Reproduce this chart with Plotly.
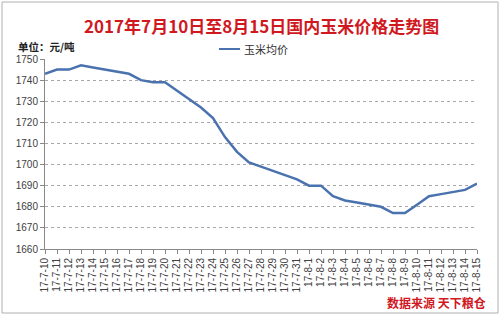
import plotly.graph_objects as go

dates = ["17-7-10","17-7-11","17-7-12","17-7-13","17-7-14","17-7-15","17-7-16","17-7-17",
         "17-7-18","17-7-19","17-7-20","17-7-21","17-7-22","17-7-23","17-7-24","17-7-25",
         "17-7-26","17-7-27","17-7-28","17-7-29","17-7-30","17-7-31",
         "17-8-1","17-8-2","17-8-3","17-8-4","17-8-5","17-8-6","17-8-7","17-8-8",
         "17-8-9","17-8-10","17-8-11","17-8-12","17-8-13","17-8-14","17-8-15"]
prices = [1743,1745,1745,1747,1746,1745,1744,1743,
          1740,1739,1739,1735,1731,1727,1722,1713,
          1706,1701,1699,1697,1695,1693,
          1690,1690,1685,1683,1682,1681,1680,1677,
          1677,1681,1685,1686,1687,1688,1691]
series_name = "玉米均价"
title_text = "2017年7月10日至8月15日国内玉米价格走势图"
unit_text = "单位：元/吨"
source_text = "数据来源 天下粮仓"

LINE = "#4a72ae"
RED = "#d0191f"
CJK = "Noto Sans CJK SC"

fig = go.Figure()
fig.add_trace(go.Scatter(x=list(range(len(dates))), y=prices, mode="lines",
                         name=series_name, line=dict(color=LINE, width=2.5),
                         showlegend=False))

W, H = 500, 316
L, R, T, B = 45, 23, 59, 67
pw, ph = W - L - R, H - T - B

def px(x):
    return (x - L) / pw

def py(y):
    return (H - B - y) / ph

fig.update_layout(
    width=W, height=H,
    margin=dict(l=L, r=R, t=T, b=B),
    paper_bgcolor="white", plot_bgcolor="white",
    xaxis=dict(range=[0, len(dates) - 1], tickmode="array",
               tickvals=list(range(len(dates))), ticktext=dates,
               tickangle=-90, ticks="outside", ticklen=4, tickcolor="#888",
               showline=True, linecolor="#888", linewidth=1, showgrid=False,
               zeroline=False,
               tickfont=dict(family="Liberation Sans", size=10, color="#404040")),
    yaxis=dict(range=[1660, 1750], dtick=10, ticks="outside", ticklen=4,
               tickcolor="#888", showline=True, linecolor="#888", linewidth=1,
               showgrid=True, gridcolor="#a8a8a8", griddash="dot", gridwidth=1,
               zeroline=False,
               tickfont=dict(family="Liberation Sans", size=10, color="#404040")),
    font=dict(family=CJK),
)

# outer border
fig.add_shape(type="rect", xref="paper", yref="paper",
              x0=px(2), x1=px(498), y0=py(313), y1=py(2),
              line=dict(color="#b0b0b0", width=1))

fig.add_annotation(text="<b>" + title_text + "</b>", xref="paper", yref="paper",
                   x=px(261), y=py(25), xanchor="center", yanchor="middle",
                   showarrow=False, font=dict(family=CJK, size=17, color=RED))
fig.add_annotation(text="<b>" + unit_text + "</b>", xref="paper", yref="paper",
                   x=px(16), y=py(46), xanchor="left", yanchor="middle",
                   showarrow=False, font=dict(family=CJK, size=10.5, color="#202020"))
# legend
fig.add_shape(type="line", xref="paper", yref="paper",
              x0=px(219), x1=px(240), y0=py(49), y1=py(49),
              line=dict(color=LINE, width=2))
fig.add_annotation(text=series_name, xref="paper", yref="paper",
                   x=px(242), y=py(49), xanchor="left", yanchor="middle",
                   showarrow=False, font=dict(family=CJK, size=11, color="#303030"))
fig.add_annotation(text="<b>" + source_text + "</b>", xref="paper", yref="paper",
                   x=px(488), y=py(302), xanchor="right", yanchor="middle",
                   showarrow=False, font=dict(family=CJK, size=12, color=RED))

fig.write_html("out.html")
